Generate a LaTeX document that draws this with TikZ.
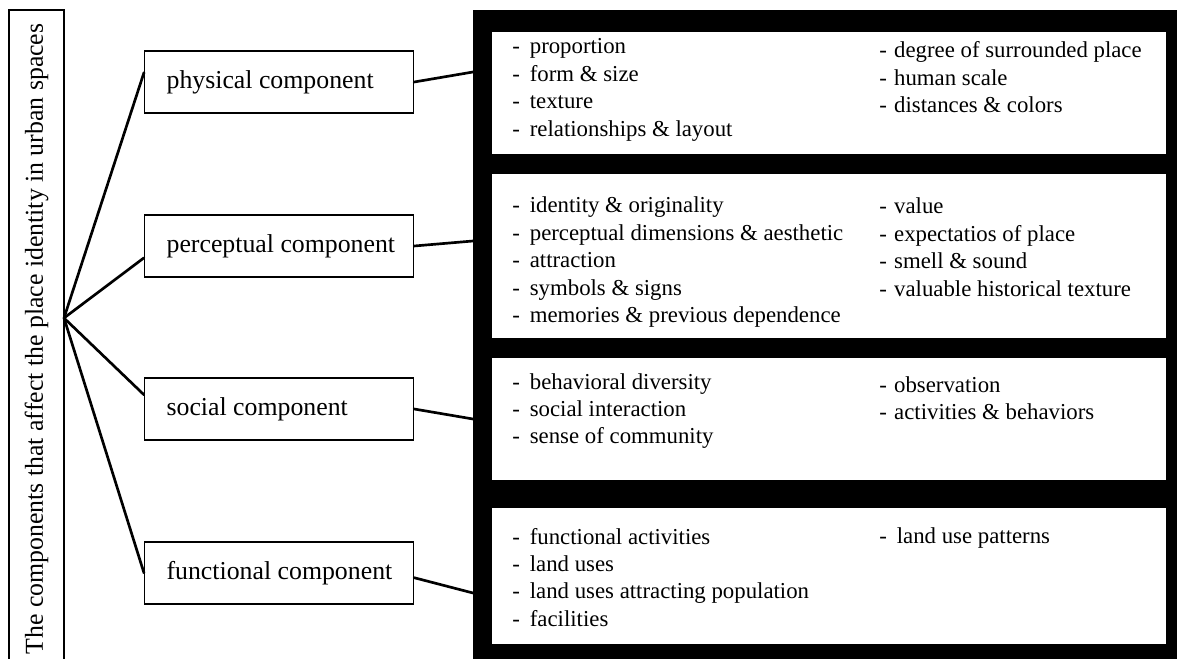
\documentclass[tikz,border=0pt]{standalone}
\usepackage{fontspec}
\setmainfont{Liberation Serif}
\usetikzlibrary{calc}

% fonts of the component labels and of the item lists
\newcommand{\labelfont}{\fontsize{19.35}{23.2}\selectfont}
\newcommand{\itemfont}{\fontsize{17.1}{20.6}\selectfont}

\tikzset{
  compbox/.style={draw, line width=0.9pt, inner sep=0pt, minimum height=46.5pt,
                  anchor=west, font=\labelfont},
  titlebox/.style={draw, line width=1pt, inner sep=0pt, rotate=90,
                   minimum width=493.5pt, minimum height=41.25pt, font=\labelfont},
  conn/.style={line width=2pt, line cap=round},
  itemsL/.style={anchor=base west, inner sep=0pt, font=\itemfont},
}

% one column of dashed items; #1 = gap between dash and text
\newcommand{\itemcol}[2]{\begin{tabular}[t]{@{}l@{\hspace{#1}}l@{}}#2\end{tabular}}
\newcommand{\complabel}[1]{\makebox[201.75pt][l]{\hspace{16.5pt}#1}}

\begin{document}
\begin{tikzpicture}[x=0.75pt, y=-0.75pt]
\useasboundingbox (0,0) rectangle (1177,659);

% black frame holding the four item panels
\fill[black] (473,10) rectangle (1180,662);
\fill[white] (492,32)  rectangle (1166,154);
\fill[white] (492,174) rectangle (1166,338);
\fill[white] (492,358) rectangle (1166,480);
\fill[white] (492,508) rectangle (1166,644);

% vertical title box
\node[titlebox] (title) at (36.5,339) {The components that affect the place identity in urban spaces};
\coordinate (hub) at (64,318);

% component boxes
\node[compbox] (phys) at (144,82)  {\complabel{physical component}};
\node[compbox] (perc) at (144,246) {\complabel{perceptual component}};
\node[compbox] (soc)  at (144,409) {\complabel{social component}};
\node[compbox] (func) at (144,573) {\complabel{functional component}};

% points where the connectors meet the frame
\coordinate (pinA) at (473,72);
\coordinate (pinB) at (473,241);
\coordinate (pinC) at (473,419);
\coordinate (pinD) at (473,593);

% fan from the title box to the components
\draw[conn] (hub) -- (phys.176);
\draw[conn] (hub) -- (perc.185);
\draw[conn] (hub) -- (soc.174);
\draw[conn] (hub) -- (func.180);

% components to the frame
\draw[conn] (phys.east) -- (pinA);
\draw[conn] (perc.east) -- (pinB);
\draw[conn] (soc.east)  -- (pinC);
\draw[conn] (func.-2)   -- (pinD);

% item lists
\node[itemsL] (physL) at (512,54) {\itemcol{7.5pt}{
  - & proportion\\ - & form \& size\\ - & texture\\ - & relationships \& layout}};
\node[itemsL] (physR) at (879,58) {\itemcol{5.5pt}{
  - & degree of surrounded place\\ - & human scale\\ - & distances \& colors}};

\node[itemsL] (percL) at (512,213) {\itemcol{7.5pt}{
  - & identity \& originality\\ - & perceptual dimensions \& aesthetic\\ - & attraction\\
  - & symbols \& signs\\ - & memories \& previous dependence}};
\node[itemsL] (percR) at (879,214) {\itemcol{5.5pt}{
  - & value\\ - & expectatios of place\\ - & smell \& sound\\ - & valuable historical texture}};

\node[itemsL] (socL) at (512,389) {\itemcol{7.5pt}{
  - & behavioral diversity\\ - & social interaction\\ - & sense of community}};
\node[itemsL] (socR) at (879,392) {\itemcol{5.5pt}{
  - & observation\\ - & activities \& behaviors}};

\node[itemsL] (funcL) at (512,544) {\itemcol{7.5pt}{
  - & functional activities\\ - & land uses\\ - & land uses attracting population\\ - & facilities}};
\node[itemsL] (funcR) at (879,543) {\itemcol{7.5pt}{
  - & land use patterns}};
\end{tikzpicture}
\end{document}
